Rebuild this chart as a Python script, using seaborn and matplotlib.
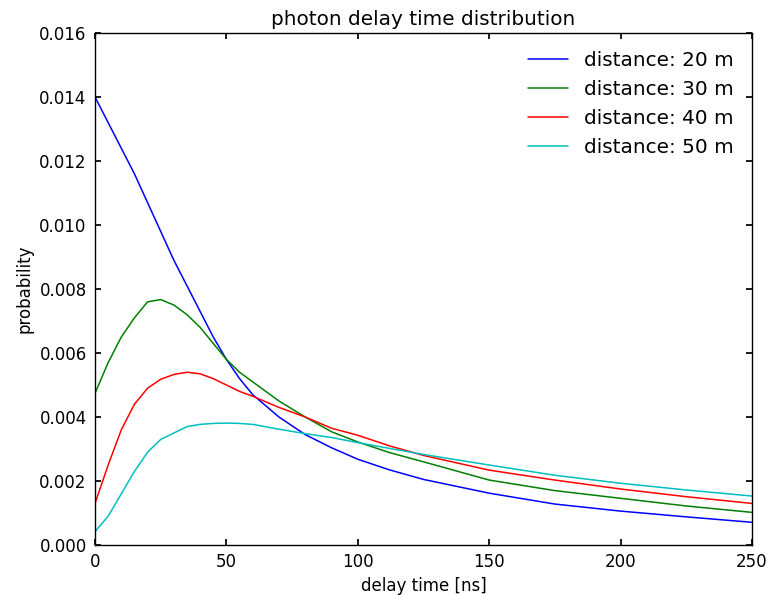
import matplotlib
matplotlib.use('Agg')
import matplotlib.pyplot as plt
import numpy as np
import pandas as pd
import seaborn as sns

# delay time grid [ns]
delay_ns = [0, 5, 10, 15, 20, 25, 30, 35, 40, 45, 50, 55, 60, 70, 80, 90,
            100, 112, 125, 150, 175, 200, 225, 250]

# probability, one list per distance
prob_20m = [0.0140, 0.0132, 0.0124, 0.0116, 0.0107, 0.0098, 0.0089, 0.0081,
            0.0073, 0.0065, 0.0058, 0.0052, 0.0047, 0.0040, 0.00345, 0.00304,
            0.00268, 0.00235, 0.00205, 0.00162, 0.00128, 0.00106, 0.00088, 0.00071]
prob_30m = [0.00474, 0.0057, 0.0065, 0.0071, 0.0076, 0.00767, 0.0075, 0.0072,
            0.0068, 0.0063, 0.0058, 0.0054, 0.0051, 0.0045, 0.0040, 0.00354,
            0.00322, 0.00289, 0.0026, 0.00203, 0.0017, 0.00146, 0.00122, 0.00102]
prob_40m = [0.0013, 0.0025, 0.0036, 0.0044, 0.0049, 0.00518, 0.00533, 0.0054,
            0.00535, 0.0052, 0.0050, 0.0048, 0.00465, 0.0043, 0.0040, 0.00365,
            0.00343, 0.0031, 0.0028, 0.00234, 0.00203, 0.00175, 0.00151, 0.0013]
prob_50m = [0.00042, 0.0009, 0.0016, 0.0023, 0.0029, 0.0033, 0.0035, 0.0037,
            0.00377, 0.0038, 0.00381, 0.0038, 0.00377, 0.00362, 0.00348, 0.00336,
            0.0032, 0.00302, 0.00283, 0.0025, 0.00218, 0.00193, 0.00172, 0.00153]

labels = ['distance: 20 m', 'distance: 30 m', 'distance: 40 m', 'distance: 50 m']
colors = ['#0000ff', '#008000', '#ff0000', '#00bfbf']

# ─── long-form table for seaborn ───
frames = []
for lab, vals in zip(labels, [prob_20m, prob_30m, prob_40m, prob_50m]):
    frames.append(pd.DataFrame({'delay': delay_ns, 'prob': vals, 'dist': lab}))
df = pd.concat(frames, ignore_index=True)

sns.set_theme(style='white')
plt.rcParams.update({
    'font.family': ['DejaVu Sans'],
    'xtick.direction': 'in', 'ytick.direction': 'in',
    'xtick.top': True, 'ytick.right': True,
    'xtick.major.size': 4, 'ytick.major.size': 4,
    'xtick.bottom': True, 'ytick.left': True,
    'axes.edgecolor': 'black', 'axes.linewidth': 1.0,
    'xtick.color': 'black', 'ytick.color': 'black',
    'text.color': 'black', 'axes.labelcolor': 'black',
})

fig = plt.figure(figsize=(7.75, 5.95), dpi=100, facecolor='white')
ax = fig.add_axes([0.1226, 0.084, 0.8477, 0.8605])

sns.lineplot(data=df, x='delay', y='prob', hue='dist', palette=colors,
             linewidth=1.1, ax=ax, sort=False, estimator=None)

ax.set_xlim(0, 250)
ax.set_ylim(0, 0.016)
ax.set_xticks([0, 50, 100, 150, 200, 250])
ax.set_yticks(np.arange(0, 0.0161, 0.002))
ax.yaxis.set_major_formatter(matplotlib.ticker.FormatStrFormatter('%.3f'))
ax.tick_params(labelsize=12, pad=6)

ax.set_xlabel('delay time [ns]', fontsize=12)
ax.set_ylabel('probability', fontsize=12)
ax.set_title('photon delay time distribution', fontsize=14.4, pad=6)

ax.legend(loc='upper right', frameon=False, fontsize=14.4, title=None,
          handlelength=2.0, borderaxespad=0.5)

plt.savefig('out.png', dpi=100, facecolor='white')
plt.close()
